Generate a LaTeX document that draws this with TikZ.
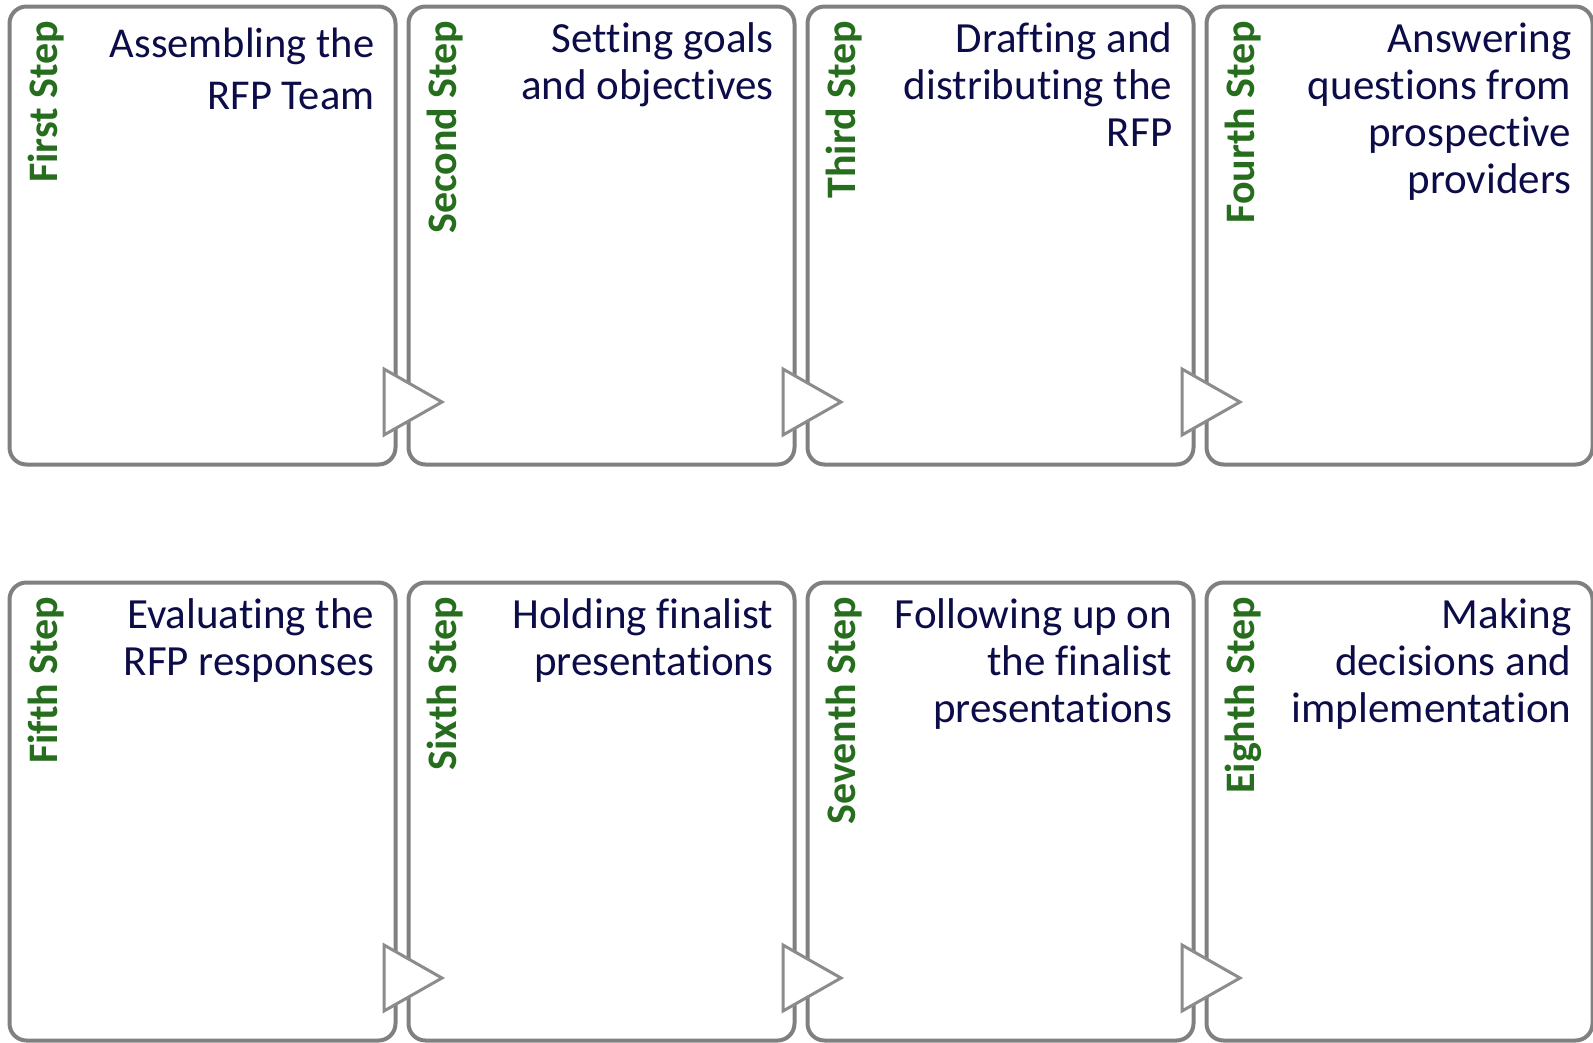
\documentclass[tikz,border=0pt]{standalone}
\usepackage{fontspec}
\setmainfont{Carlito}[Ligatures=NoCommon]
\usetikzlibrary{calc}
\definecolor{boxgray}{RGB}{128,128,128}
\definecolor{arrowgray}{RGB}{140,140,140}
\definecolor{stepgreen}{RGB}{38,110,30}
\definecolor{tasknavy}{RGB}{12,12,72}
\tikzset{
  stepbox/.style={draw=boxgray, line width=4pt, fill=white, rounded corners=17pt,
    minimum width=386pt, minimum height=458pt, inner sep=0pt},
  steplabel/.style={rotate=90, anchor=base east, inner sep=0pt, text=stepgreen,
    font=\fontsize{42}{47}\selectfont\bfseries},
  tasktext/.style={anchor=north east, inner sep=0pt, align=right, text=tasknavy,
    font=\fontsize{43}{47}\selectfont},
  nextarrow/.style={draw=arrowgray, line width=3pt, fill=white, line join=miter}
}
\begin{document}
\begin{tikzpicture}[x=1pt, y=-1pt]
        \useasboundingbox (0,0) rectangle (1593,1042);
        % top row
        \node [stepbox] (s1) at (202.5,235.5) {};
        \node [stepbox] (s2) at (601.5,235.5) {};
        \node [stepbox] (s3) at (1000.5,235.5) {};
        \node [stepbox] (s4) at (1399.5,235.5) {};
        % bottom row
        \node [stepbox] (s5) at (202.5,811.5) {};
        \node [stepbox] (s6) at (601.5,811.5) {};
        \node [stepbox] (s7) at (1000.5,811.5) {};
        \node [stepbox] (s8) at (1399.5,811.5) {};
        % green step names
        \node [steplabel] (l1) at ([xshift=49.5pt, yshift=-16pt]s1.north west) {First Step};
        \node [steplabel] (l2) at ([xshift=49.5pt, yshift=-16pt]s2.north west) {Second Step};
        \node [steplabel] (l3) at ([xshift=49.5pt, yshift=-16pt]s3.north west) {Third Step};
        \node [steplabel] (l4) at ([xshift=49.5pt, yshift=-16pt]s4.north west) {Fourth Step};
        \node [steplabel] (l5) at ([xshift=49.5pt, yshift=-16pt]s5.north west) {Fifth Step};
        \node [steplabel] (l6) at ([xshift=49.5pt, yshift=-16pt]s6.north west) {Sixth Step};
        \node [steplabel] (l7) at ([xshift=49.5pt, yshift=-16pt]s7.north west) {Seventh Step};
        \node [steplabel] (l8) at ([xshift=49.5pt, yshift=-16pt]s8.north west) {Eighth Step};
        % what each step does
        \node [tasktext, font=\fontsize{42.5}{52}\selectfont] (t1) at ([xshift=-23pt, yshift=-23pt]s1.north east) {Assembling the\\RFP Team};
        \node [tasktext] (t2) at ([xshift=-23pt, yshift=-18pt]s2.north east) {Setting goals\\and objectives};
        \node [tasktext] (t3) at ([xshift=-23pt, yshift=-18pt]s3.north east) {Drafting and\\distributing the\\RFP};
        \node [tasktext] (t4) at ([xshift=-23pt, yshift=-18pt]s4.north east) {Answering\\questions from\\prospective\\providers};
        \node [tasktext] (t5) at ([xshift=-23pt, yshift=-18pt]s5.north east) {Evaluating the\\RFP responses};
        \node [tasktext] (t6) at ([xshift=-23pt, yshift=-18pt]s6.north east) {Holding finalist\\presentations};
        \node [tasktext] (t7) at ([xshift=-23pt, yshift=-18pt]s7.north east) {Following up on\\the finalist\\presentations};
        \node [tasktext] (t8) at ([xshift=-23pt, yshift=-18pt]s8.north east) {Making\\decisions and\\implementation};
        % arrows between the boxes
        \draw [nextarrow] ([xshift=-13.5pt, yshift=97.5pt]s1.south east) -- ++(0,66) -- ++(58,-33) -- cycle;
        \draw [nextarrow] ([xshift=-13.5pt, yshift=97.5pt]s2.south east) -- ++(0,66) -- ++(58,-33) -- cycle;
        \draw [nextarrow] ([xshift=-13.5pt, yshift=97.5pt]s3.south east) -- ++(0,66) -- ++(58,-33) -- cycle;
        \draw [nextarrow] ([xshift=-13.5pt, yshift=97.5pt]s5.south east) -- ++(0,66) -- ++(58,-33) -- cycle;
        \draw [nextarrow] ([xshift=-13.5pt, yshift=97.5pt]s6.south east) -- ++(0,66) -- ++(58,-33) -- cycle;
        \draw [nextarrow] ([xshift=-13.5pt, yshift=97.5pt]s7.south east) -- ++(0,66) -- ++(58,-33) -- cycle;
\end{tikzpicture}
\end{document}
